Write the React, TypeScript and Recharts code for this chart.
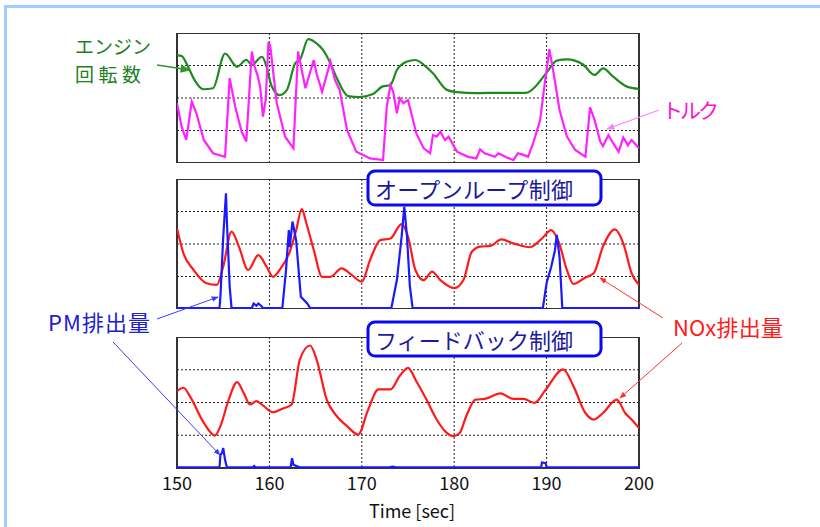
import React from 'react';
import {
  LineChart,
  Line,
  XAxis,
  YAxis,
  CartesianGrid,
  ReferenceArea,
} from 'recharts';

// time axis
const timeTicks = [150, 160, 170, 180, 190, 200];
const levelTicks = [0, 1, 2, 3, 4];

// [time, value] pairs (grid units 0..4)
const engineSpeed: [number, number][] = [
  [150, 3.32], [150.5, 3.29], [151.2, 2.96], [151.9, 2.55], [152.85, 2.27], [153.9, 2.3],
  [155.2, 3.37], [156.5, 2.96], [157.5, 3.17], [158.1, 3.02], [159.2, 3.27], [159.7, 2.96],
  [160.2, 2.4], [161.1, 2.09], [161.9, 2.25], [162.8, 3.07], [163.3, 3.17], [164.2, 3.81],
  [165.1, 3.68], [165.8, 3.48], [166.6, 3.07], [167.3, 2.61], [168.5, 2.06], [169.8, 2.03],
  [171.2, 2.12], [172.2, 2.35], [173.1, 2.4], [173.8, 2.86], [174.9, 3.12], [175.8, 3.17],
  [176.7, 3.02], [177.7, 2.76], [179.2, 2.25], [180.3, 2.18], [182.4, 2.15], [185.3, 2.16],
  [187.8, 2.16], [188.6, 2.3], [190, 2.78], [191.1, 3.15], [192.2, 3.19], [193.9, 3.04],
  [195.2, 2.71], [196.1, 2.91], [197.2, 2.66], [198.7, 2.35], [200, 2.28],
];

const torque: [number, number][] = [
  [150, 1.84], [150.5, 1.12], [151, 0.71], [151.6, 1.89], [152.1, 1.53], [152.9, 0.71],
  [153.9, 0.3], [155.2, 0.19], [155.7, 2.61], [156.3, 1.73], [157, 0.96], [157.5, 0.66],
  [158.1, 3.43], [158.4, 2.96], [158.7, 2.71], [159, 2.35], [159.3, 1.43], [159.6, 1.94],
  [159.9, 3.73], [160.1, 3.58], [160.8, 1.84], [161.7, 0.81], [162.6, 0.45], [163.1, 3.43],
  [163.5, 2.86], [163.9, 2.3], [164.8, 3.17], [165.1, 2.76], [165.7, 2.19], [166.6, 3.12],
  [167.1, 2.55], [167.6, 2.25], [168.4, 1.02], [169.4, 0.35], [170.9, 0.14], [172.3, 0.09],
  [172.7, 1.73], [173.1, 2.4], [173.4, 2.19], [173.8, 1.53], [174.1, 1.99], [174.5, 1.84],
  [175, 1.94], [175.9, 0.91], [176.7, 0.45], [177.4, 0.3], [177.7, 0.86], [178.1, 0.81],
  [178.5, 0.96], [179, 0.71], [179.4, 0.81], [180.3, 0.35], [181.5, 0.19], [182.4, 0.14],
  [182.8, 0.42], [183.3, 0.3], [184.4, 0.19], [184.8, 0.3], [185.7, 0.17], [186.4, 0.09],
  [186.9, 0.3], [187.5, 0.25], [188, 0.19], [188.6, 0.66], [189.3, 1.32], [189.8, 2.45],
  [190.3, 3.5], [190.7, 2.86], [191.4, 1.63], [192.2, 0.81], [193.1, 0.4], [194.2, 0.19],
  [194.7, 1.71], [195.2, 1.32], [195.8, 0.66], [196.1, 0.52], [196.7, 0.86], [197.2, 0.61],
  [197.8, 0.35], [198.3, 0.79], [198.8, 0.55], [199.2, 0.71], [200, 0.45],
];

const noxOpen: [number, number][] = [
  [150, 2.48], [150.7, 1.71], [151.8, 1.2], [153.2, 0.79], [154.3, 0.74], [155, 1.3],
  [155.9, 2.38], [156.7, 1.92], [157.7, 1.2], [158.8, 1.66], [159.7, 1.3], [160.4, 0.99],
  [161.1, 1.2], [162.2, 1.76], [162.9, 2.43], [163.5, 3.07], [164, 2.64], [164.8, 1.82],
  [165.7, 0.99], [166.6, 0.99], [167.8, 1.25], [168.9, 1.05], [170, 0.84], [170.9, 1.51],
  [172, 2.12], [173.1, 2.17], [174.3, 2.61], [175, 2.23], [175.8, 1.2], [176.7, 0.89],
  [177.6, 1.15], [178.5, 0.89], [180, 0.64], [181, 0.89], [181.9, 1.76], [182.8, 1.92],
  [183.9, 1.94], [185.1, 2.14], [186.4, 2.02], [188.2, 1.9], [189.5, 2.17], [190.5, 2.43],
  [191.3, 2.07], [192.2, 1.2], [192.9, 0.77], [194.2, 0.97], [195.1, 1.1], [196.1, 1.92],
  [197.4, 2.45], [198.3, 2.02], [199.2, 1.1], [200, 0.74],
];

const pmOpen: [number, number][] = [
  [150, 0.03], [154.6, 0.03], [154.7, 0.38], [155, 2.2], [155.3, 3.56], [155.4, 2.7],
  [155.7, 0.7], [155.9, 0.03], [158.1, 0.03], [158.3, 0.17], [158.6, 0.1], [158.8, 0.17],
  [159.1, 0.1], [159.3, 0.03], [161.4, 0.03], [161.8, 1.2], [162.1, 2.43], [162.2, 1.9],
  [162.5, 2.69], [162.9, 2.1], [163.4, 0.38], [164.1, 0.17], [164.4, 0.03], [173.2, 0.03],
  [173.8, 0.9], [174.3, 2.2], [174.6, 3.15], [174.9, 2.2], [175.2, 0.7], [175.5, 0.03],
  [189.6, 0.03], [190, 0.8], [190.5, 1.3], [190.9, 1.8], [191.1, 2.28], [191.4, 1.6],
  [191.7, 0.03], [200, 0.03],
];

const noxFeedback: [number, number][] = [
  [150, 2.35], [150.7, 2.45], [151.4, 2.19], [152.9, 1.38], [154.1, 0.99], [154.7, 1.28],
  [155.6, 2.09], [156.5, 2.62], [157.2, 2.3], [157.9, 1.94], [158.6, 2.04], [159.3, 1.91],
  [160.4, 1.7], [161.4, 1.81], [162.4, 1.94], [163.3, 3.32], [164.4, 3.74], [165.1, 3.32],
  [166.2, 2.09], [167.3, 1.58], [168.4, 1.28], [169.6, 1.02], [170.7, 1.79], [171.8, 2.4],
  [173.1, 2.4], [174.1, 2.81], [175, 3.06], [175.9, 2.65], [177, 2.09], [178.1, 1.48],
  [179.2, 1.07], [179.9, 0.97], [180.6, 1.07], [181.3, 1.58], [182.3, 2.09], [183.3, 2.11],
  [185, 2.28], [186.4, 2.11], [187.5, 2.11], [188.7, 1.99], [189.8, 2.35], [191.8, 3.01],
  [192.9, 2.5], [194.2, 1.68], [195.1, 1.48], [196.1, 1.68], [197.6, 2.09], [198.5, 1.68],
  [199.2, 1.48], [200, 1.22],
];

const pmFeedback: [number, number][] = [
  [150, 0.02], [154.6, 0.02], [154.7, 0.4], [154.85, 0.45], [155, 0.61], [155.2, 0.25],
  [155.4, 0.02], [158.2, 0.02], [158.35, 0.06], [158.5, 0.02], [162.3, 0.02], [162.45, 0.3],
  [162.6, 0.1], [163, 0.05], [163.3, 0.02], [173, 0.02], [173.3, 0.04], [173.7, 0.02],
  [189.4, 0.02], [189.5, 0.17], [189.9, 0.15], [190, 0.02], [200, 0.02],
];

const toRows = (pts: [number, number][]) => pts.map(([t, v]) => ({ t, v }));

const FONT = '"Noto Sans CJK JP", "Noto Sans", sans-serif';

interface SeriesDef {
  name: string;
  points: [number, number][];
  color: string;
  curve: 'linear' | 'monotone';
}

interface PanelProps {
  top: number;
  plotHeight: number;
  series: SeriesDef[];
  showAxis?: boolean;
}

function Panel({ top, plotHeight, series, showAxis = false }: PanelProps) {
  const axisHeight = showAxis ? 62 : 0;
  return (
    <div style={{ position: 'absolute', left: 0, top }}>
      <LineChart
        width={820}
        height={plotHeight + axisHeight}
        margin={{ top: 0, right: 181, bottom: 0, left: 177 }}
      >
        <CartesianGrid stroke="#222" strokeDasharray="2 2" strokeWidth={1} />
        <XAxis
          type="number"
          dataKey="t"
          domain={[150, 200]}
          ticks={timeTicks}
          allowDataOverflow
          hide={!showAxis}
          height={axisHeight}
          axisLine={false}
          tickLine={false}
          tickMargin={3}
          tick={{ fill: '#111', fontSize: 18, fontFamily: FONT }}
          label={{
            value: 'Time [sec]',
            position: 'insideBottom',
            offset: 12,
            dx: 4,
            fill: '#111',
            fontSize: 18,
            fontFamily: FONT,
          }}
        />
        <YAxis type="number" domain={[0, 4]} ticks={levelTicks} hide allowDataOverflow />
        <ReferenceArea
          x1={150}
          x2={200}
          y1={0}
          y2={4}
          fill="none"
          stroke="#333"
          strokeWidth={2}
          ifOverflow="visible"
        />
        {series.map((s) => (
          <Line
            key={s.name}
            data={toRows(s.points)}
            dataKey="v"
            name={s.name}
            type={s.curve}
            stroke={s.color}
            strokeWidth={2.2}
            dot={false}
            isAnimationActive={false}
          />
        ))}
      </LineChart>
    </div>
  );
}

function Annotations() {
  return (
    <svg
      width={820}
      height={527}
      style={{ position: 'absolute', left: 0, top: 0, pointerEvents: 'none' }}
      fontFamily={FONT}
    >
      <defs>
        {[
          ['ahGreen', '#2a9a2a'],
          ['ahPink', '#ff80ff'],
          ['ahBlue', '#3a3aff'],
          ['ahRed', '#ff3030'],
        ].map(([id, c]) => (
          <marker key={id} id={id} viewBox="0 0 10 10" refX="9" refY="5" markerWidth="7" markerHeight="7" orient="auto">
            <path d="M0,1 L10,5 L0,9 z" fill={c} />
          </marker>
        ))}
      </defs>

      {/* light blue page frame */}
      <line x1={5.5} y1={5} x2={5.5} y2={527} stroke="#9fcfff" strokeWidth={3} />
      <line x1={4} y1={6.5} x2={820} y2={6.5} stroke="#9fcfff" strokeWidth={3} />

      {/* engine speed (two-line label) */}
      <text x={75} y={54} fontSize={19} fill="#1f7f1f" textLength={76}>エンジン</text>
      <text x={75} y={82} fontSize={19} fill="#1f7f1f" textLength={66}>回転数</text>
      <line x1={157} y1={65} x2={190} y2={70} stroke="#2a9a2a" strokeWidth={1.5} markerEnd="url(#ahGreen)" />

      {/* torque */}
      <text x={662} y={118} fontSize={21} fill="#ff10d0" textLength={57}>トルク</text>
      <line x1={659} y1={110} x2={607} y2={129} stroke="#ff80ff" strokeWidth={1.2} markerEnd="url(#ahPink)" />

      {/* control mode boxes */}
      <rect x={368} y={171} width={233} height={34} rx={7} fill="#fff" stroke="#0a0aee" strokeWidth={3} />
      <text x={375} y={198} fontSize={22} fill="#1a1a9a" textLength={198}>オープンループ制御</text>
      <rect x={368} y={322} width={233} height={34} rx={7} fill="#fff" stroke="#0a0aee" strokeWidth={3} />
      <text x={375} y={349} fontSize={22} fill="#1a1a9a" textLength={198}>フィードバック制御</text>

      {/* PM */}
      <text x={48} y={331} fontSize={22} fill="#2020d0" textLength={102}>PM排出量</text>
      <line x1={157} y1={319} x2={218} y2={297} stroke="#3a3aff" strokeWidth={1} markerEnd="url(#ahBlue)" />
      <line x1={113} y1={342} x2={220} y2={455} stroke="#3a3aff" strokeWidth={1} markerEnd="url(#ahBlue)" />

      {/* NOx */}
      <text x={673} y={336} fontSize={22} fill="#ff1a1a" textLength={110}>NOx排出量</text>
      <line x1={663} y1={318} x2={600} y2={278} stroke="#ff3030" strokeWidth={1} markerEnd="url(#ahRed)" />
      <line x1={682} y1={343} x2={620} y2={398} stroke="#ff3030" strokeWidth={1} markerEnd="url(#ahRed)" />
    </svg>
  );
}

export default function App() {
  return (
    <div
      style={{
        position: 'absolute',
        left: 0,
        top: 0,
        width: 820,
        height: 527,
        background: '#fff',
        overflow: 'hidden',
      }}
    >
      <Panel
        top={33}
        plotHeight={130}
        series={[
          { name: 'engine', points: engineSpeed, color: '#1f8a1f', curve: 'monotone' },
          { name: 'torque', points: torque, color: '#ff22ff', curve: 'linear' },
        ]}
      />
      <Panel
        top={179}
        plotHeight={130}
        series={[
          { name: 'noxOpen', points: noxOpen, color: '#ff1a1a', curve: 'monotone' },
          { name: 'pmOpen', points: pmOpen, color: '#1a1aff', curve: 'linear' },
        ]}
      />
      <Panel
        top={337}
        plotHeight={131}
        showAxis
        series={[
          { name: 'noxFeedback', points: noxFeedback, color: '#ff1a1a', curve: 'monotone' },
          { name: 'pmFeedback', points: pmFeedback, color: '#1a1aff', curve: 'linear' },
        ]}
      />
      <Annotations />
    </div>
  );
}
